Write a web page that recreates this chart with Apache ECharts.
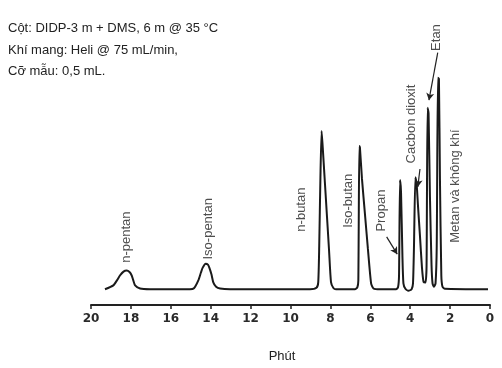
<!DOCTYPE html>
<html>
<head>
<meta charset="utf-8">
<script src="https://cdn.jsdelivr.net/npm/echarts@6/dist/echarts.min.js"></script>
<style>
html,body{margin:0;padding:0;background:#fff;}
#c{width:502px;height:368px;}
</style>
</head>
<body>
<div id="c"></div>
<script>
// Retention time (minutes) and detector signal
var time = [19.30, 18.88, 18.70, 18.55, 18.37, 18.21, 18.07, 17.96, 17.88, 17.79, 17.54, 17.04,
  15.04, 14.84, 14.62, 14.49, 14.40, 14.25, 14.14, 14.07, 13.96, 13.87, 13.73, 13.53, 13.03,
  9.02, 8.70, 8.61, 8.56, 8.50, 8.44, 8.37, 8.27, 8.17, 8.07, 7.97, 7.85, 7.72,
  6.77, 6.65, 6.60, 6.55, 6.52, 6.42, 6.27, 6.12, 5.96, 5.84, 5.51,
  4.71, 4.61, 4.56, 4.51, 4.46, 4.39, 4.34, 4.24, 4.09, 3.93, 3.86,
  3.81, 3.74, 3.68, 3.61, 3.51, 3.41, 3.33, 3.23,
  3.18, 3.13, 3.08, 3.01, 2.93, 2.88, 2.81,
  2.73, 2.67, 2.61, 2.56, 2.51, 2.44, 2.38, 2.26, 0.10];
var signal = [0, 4, 9, 14, 18, 19, 17.5, 14, 9, 4, 0.7, 0,
  0, 1, 9, 17, 22, 26, 25, 22, 15, 7, 2.5, 0.7, 0,
  0, 1.5, 7, 44, 114, 161, 139.5, 106.5, 73.5, 40.5, 7.3, 1.3, 0,
  0, 2, 9, 145.7, 144, 113, 77, 41, 6, 0.8, 0,
  0, 2, 14, 111, 99, 34, 6, 0.5, -1.5, 0, 6,
  44, 114, 108, 85, 54, 22, 7.5, 7,
  24, 184.7, 179, 94, 24, 6, 2.5,
  6, 44, 215, 214, 114, 14, 2.5, 0.5, 0];

// Peak labels and where they sit (time, signal)
var peakNames = ['n-pentan', 'Iso-pentan', 'n-butan', 'Iso-butan', 'Propan', 'Cacbon dioxit', 'Etan', 'Metan và không khí'];
var labelTime = [18.21, 14.12, 9.44, 7.09, 5.44, 3.92, 2.71, 1.75];
var labelSignal = [53, 61.5, 81, 90, 80, 168, 256, 105];

// Arrows: [fromTime, fromSignal, toTime, toSignal, curveness]
var arrowEtan = [2.62, 240.7, 3.06, 192.3, 0];
var arrowPropan = [5.18, 53.3, 4.65, 35.7, -0.3];
var arrowCO2 = [3.51, 122.3, 3.62, 104, 0.3];

var xTicks = [0, 2, 4, 6, 8, 10, 12, 14, 16, 18, 20];
var headerLines = ['Cột: DIDP-3 m + DMS, 6 m @ 35 °C', 'Khí mang: Heli @ 75 mL/min,', 'Cỡ mẫu: 0,5 mL.'];

var trace = time.map(function (t, i) { return [t, signal[i]]; });
var labelData = peakNames.map(function (n, i) { return { value: [labelTime[i], labelSignal[i]], name: n }; });
function arrow(a) {
  return [{ coord: [a[0], a[1]], lineStyle: { curveness: a[4] } }, { coord: [a[2], a[3]] }];
}

var chart = echarts.init(document.getElementById('c'), null, { renderer: 'canvas' });
chart.setOption({
  backgroundColor: '#ffffff',
  animation: false,
  title: {
    text: headerLines.join('\n'),
    left: 3,
    top: 13,
    textStyle: { fontFamily: 'Liberation Sans', fontSize: 13, fontWeight: 'normal', color: '#222', lineHeight: 21.5 }
  },
  grid: { left: 91, right: 12, top: 10, bottom: 58 },
  xAxis: {
    type: 'value', min: 0, max: 20, interval: 2, inverse: true,
    name: 'Phút', nameLocation: 'middle', nameGap: 45,
    nameTextStyle: { fontFamily: 'Liberation Sans', fontSize: 13, color: '#222', padding: [0, 17, 0, 0] },
    axisLine: { onZero: false, lineStyle: { color: '#222', width: 2 } },
    axisTick: { show: true, length: 4, lineStyle: { color: '#222', width: 1.5 } },
    axisLabel: {
      margin: 8, fontFamily: 'DejaVu Sans', fontSize: 12, fontWeight: 'bold', color: '#2a2a2a',
      formatter: function (v) { return xTicks.indexOf(v) >= 0 ? String(v) : ''; }
    },
    splitLine: { show: false }
  },
  yAxis: { type: 'value', min: -16, max: 284, show: false },
  series: [
    {
      type: 'line', data: trace, showSymbol: false, smooth: 0.2,
      lineStyle: { color: '#1a1a1a', width: 2 },
      markLine: {
        silent: true, symbol: ['none', 'arrow'], symbolSize: [6, 7],
        lineStyle: { color: '#222', width: 1.2, type: 'solid' },
        label: { show: false },
        data: [arrow(arrowEtan), arrow(arrowPropan), arrow(arrowCO2)]
      }
    },
    {
      type: 'scatter', data: labelData, symbolSize: 0,
      label: {
        show: true, position: 'inside', rotate: 90, formatter: '{b}',
        fontFamily: 'Liberation Sans', fontSize: 13, color: '#222'
      }
    }
  ]
});
</script>
</body>
</html>
